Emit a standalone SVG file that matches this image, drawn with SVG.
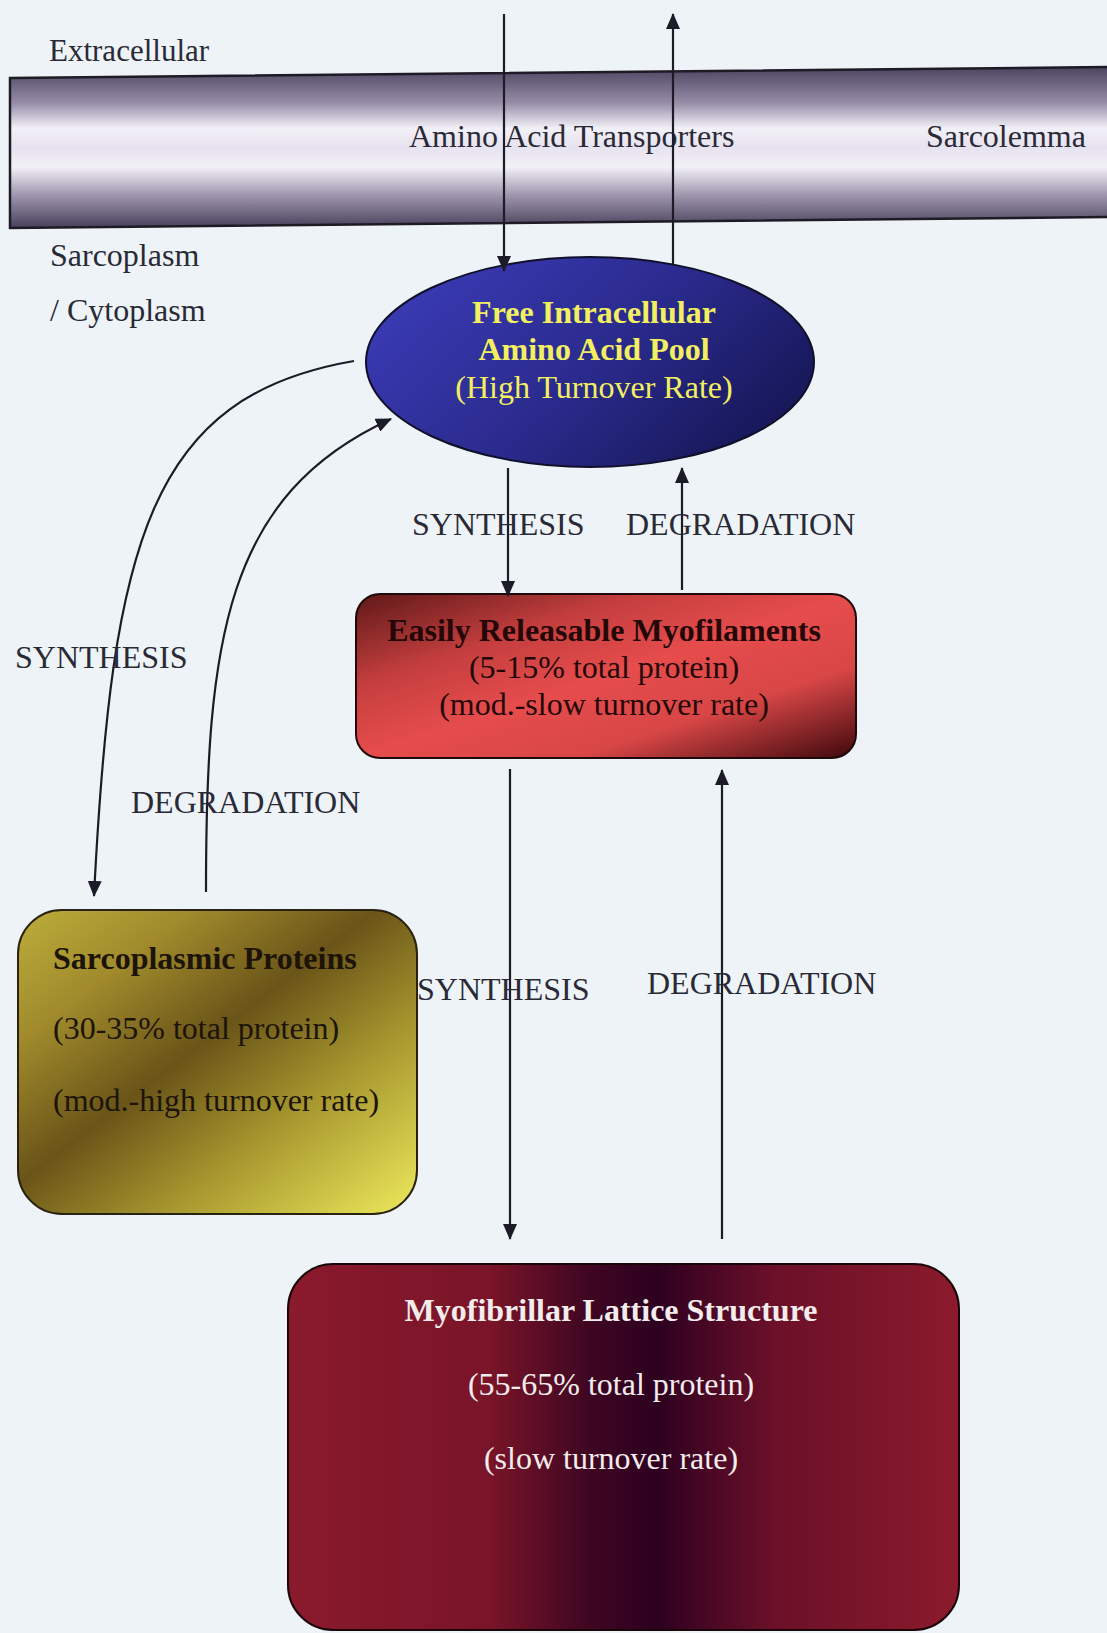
<svg xmlns="http://www.w3.org/2000/svg" width="1107" height="1633" viewBox="0 0 1107 1633">
<defs>
<style>
text{font-family:"Liberation Serif","Times New Roman",serif;font-size:32px;fill:#2a2a36}
.b{font-weight:bold}
.c{text-anchor:middle}
.ln{fill:none;stroke:#1c1c28;stroke-width:2.2}
.arr{marker-end:url(#ah)}
</style>
<marker id="ah" markerUnits="userSpaceOnUse" markerWidth="16" markerHeight="14" refX="15" refY="7" orient="auto">
<path d="M0,0 L16,7 L0,14 z" fill="#1c1c28"/>
</marker>
<linearGradient id="gMem" x1="0" y1="0" x2="0" y2="1">
<stop offset="0" stop-color="#4c4460"/>
<stop offset="0.22" stop-color="#958ba6"/>
<stop offset="0.38" stop-color="#f2f0f7"/>
<stop offset="0.5" stop-color="#e6e2ef"/>
<stop offset="0.62" stop-color="#f3f1f7"/>
<stop offset="0.8" stop-color="#9d94ac"/>
<stop offset="1" stop-color="#48405a"/>
</linearGradient>
<linearGradient id="gPool" x1="0" y1="0.3" x2="1" y2="0.8">
<stop offset="0" stop-color="#3a3ab4"/>
<stop offset="0.5" stop-color="#2a2a8c"/>
<stop offset="1" stop-color="#141450"/>
</linearGradient>
<linearGradient id="gEasy" x1="0" y1="0" x2="1" y2="1">
<stop offset="0" stop-color="#5e1818"/>
<stop offset="0.28" stop-color="#c43e3e"/>
<stop offset="0.5" stop-color="#e64c4c"/>
<stop offset="0.72" stop-color="#d84646"/>
<stop offset="1" stop-color="#3e080c"/>
</linearGradient>
<linearGradient id="gSarc" x1="0" y1="0" x2="1" y2="1">
<stop offset="0" stop-color="#bcae3a"/>
<stop offset="0.22" stop-color="#a08a2c"/>
<stop offset="0.45" stop-color="#6a5418"/>
<stop offset="0.68" stop-color="#a6962e"/>
<stop offset="1" stop-color="#eeea5c"/>
</linearGradient>
<linearGradient id="gMyo" x1="0" y1="0" x2="1" y2="0">
<stop offset="0" stop-color="#8a1a2c"/>
<stop offset="0.3" stop-color="#7a1428"/>
<stop offset="0.45" stop-color="#3e0622"/>
<stop offset="0.55" stop-color="#2e0020"/>
<stop offset="0.72" stop-color="#6a1028"/>
<stop offset="1" stop-color="#8c1a2c"/>
</linearGradient>
</defs>
<rect width="1107" height="1633" fill="#edf3f7"/>

<g id="membrane">
<polygon points="10,78 1110,67 1110,217 10,228" fill="url(#gMem)" stroke="#1e1a26" stroke-width="2.5"/>
<text x="409" y="147">Amino Acid Transporters</text>
<text x="926" y="147">Sarcolemma</text>
</g>
<g id="labels">
<text x="49" y="61" style="font-size:31px">Extracellular</text>
<text x="50" y="266">Sarcoplasm</text>
<text x="50" y="321">/ Cytoplasm</text>
</g>

<g id="pool">
<ellipse cx="590" cy="362" rx="224" ry="105" fill="url(#gPool)" stroke="#10102a" stroke-width="2"/>
<text class="b c" x="594" y="323" style="fill:#f2f060">Free Intracellular</text>
<text class="b c" x="594" y="360" style="fill:#f2f060">Amino Acid Pool</text>
<text class="c" x="594" y="398" style="fill:#f2f060">(High Turnover Rate)</text>
</g>

<g id="easily">
<rect x="356" y="594" width="500" height="164" rx="24" fill="url(#gEasy)" stroke="#1e0a0a" stroke-width="2"/>
<text class="b c" x="604" y="641" style="fill:#240808">Easily Releasable Myofilaments</text>
<text class="c" x="604" y="678" style="fill:#240808">(5-15% total protein)</text>
<text class="c" x="604" y="715" style="fill:#240808">(mod.-slow turnover rate)</text>
</g>

<g id="sarcoplasmic">
<rect x="18" y="910" width="399" height="304" rx="44" fill="url(#gSarc)" stroke="#2a2210" stroke-width="2"/>
<text class="b" x="53" y="969" style="fill:#1c1408">Sarcoplasmic Proteins</text>
<text x="53" y="1039" style="fill:#1c1408">(30-35% total protein)</text>
<text x="53" y="1111" style="fill:#1c1408">(mod.-high turnover rate)</text>
</g>

<g id="myofibrillar">
<rect x="288" y="1264" width="671" height="366" rx="45" fill="url(#gMyo)" stroke="#1a0508" stroke-width="2"/>
<text class="b c" x="611" y="1321" style="fill:#f2ecec">Myofibrillar Lattice Structure</text>
<text class="c" x="611" y="1395" style="fill:#f2ecec">(55-65% total protein)</text>
<text class="c" x="611" y="1469" style="fill:#f2ecec">(slow turnover rate)</text>
</g>

<g id="connectors">
<line class="ln arr" x1="504" y1="14" x2="504" y2="271"/>
<line class="ln arr" x1="673" y1="266" x2="673" y2="14"/>
<line class="ln arr" x1="508" y1="468" x2="508" y2="596"/>
<line class="ln arr" x1="682" y1="590" x2="682" y2="468"/>
<line class="ln arr" x1="510" y1="769" x2="510" y2="1239"/>
<line class="ln arr" x1="722" y1="1239" x2="722" y2="770"/>
<path class="ln arr" d="M354,361 C150,396 112,540 94,896"/>
<path class="ln arr" d="M206,892 C206,640 225,495 391,419"/>
</g>

<g id="connector-labels">
<text x="412" y="535">SYNTHESIS</text>
<text x="626" y="535">DEGRADATION</text>
<text x="15" y="668">SYNTHESIS</text>
<text x="131" y="813">DEGRADATION</text>
<text x="417" y="1000">SYNTHESIS</text>
<text x="647" y="994">DEGRADATION</text>
</g>
</svg>
